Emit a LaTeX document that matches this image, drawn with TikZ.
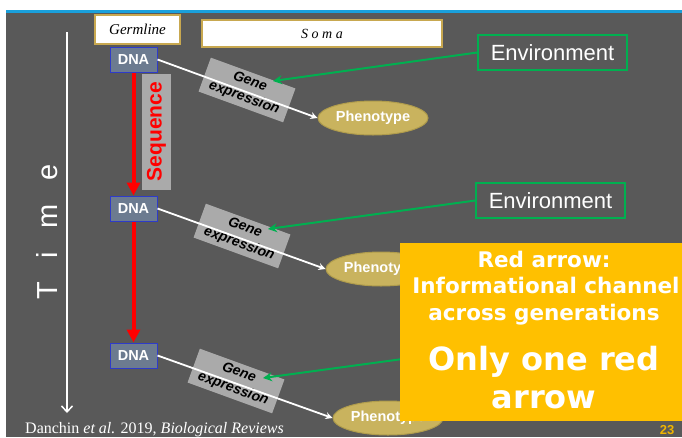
\documentclass[tikz,border=0pt]{standalone}
\usepackage{fontspec}
\setmainfont{Liberation Sans}
\newfontfamily\serifit{Liberation Serif}
\newfontfamily\timefont[WordSpace=2.9]{Liberation Sans}
\newfontfamily\yfont{DejaVu Sans}
\usetikzlibrary{shapes.geometric,arrows.meta}
\definecolor{bg}{HTML}{595959}
\definecolor{topblue}{HTML}{1AA0DC}
\definecolor{goldline}{HTML}{C8A850}
\definecolor{envgreen}{HTML}{00B050}
\definecolor{dnafill}{HTML}{6C7B90}
\definecolor{dnaline}{HTML}{2E3BC9}
\definecolor{boxgray}{HTML}{AAAAAA}
\definecolor{phfill}{HTML}{C9B35E}
\definecolor{phline}{HTML}{B09C4C}
\definecolor{yel}{HTML}{FFC000}
\definecolor{numyel}{HTML}{F0B400}
\tikzset{
  labelbox/.style={draw=goldline, line width=1.2pt, fill=white, inner sep=0pt},
  envbox/.style={draw=envgreen, line width=1.5pt, inner sep=0pt, minimum width=149pt, minimum height=35pt,
    text=white, font=\fontsize{22}{24}\selectfont},
  dnabox/.style={draw=dnaline, line width=1pt, fill=dnafill, inner sep=0pt, minimum width=47pt, minimum height=25pt,
    text=white, font=\fontsize{14.5}{16}\selectfont\bfseries},
  genebox/.style={fill=boxgray, rotate=-20, inner sep=0pt, minimum width=90pt, minimum height=36pt,
    align=center, font=\fontsize{14}{17}\selectfont\bfseries\itshape},
  phbox/.style={ellipse, fill=phfill, draw=phline, line width=1pt, inner sep=0pt, minimum width=110pt, minimum height=34pt,
    text=white, font=\fontsize{14.5}{16}\selectfont\bfseries},
  whitearrow/.style={draw=white, line width=1.8pt, -{Stealth[length=7pt,width=7pt]}},
  greenarrow/.style={draw=envgreen, line width=2pt, -{Stealth[length=9pt,width=9pt]}},
  redarrow/.style={draw=red, line width=4pt, -{Triangle[length=13pt,width=13pt]}},
  ytext/.style={text=white, anchor=base, inner sep=0pt},
}
\begin{document}
\begin{tikzpicture}[x=1pt,y=-1pt]
\useasboundingbox (0,0) rectangle (682,437);
\clip (0,0) rectangle (682,437);
% background
\fill[white] (0,0) rectangle (682,437);
\fill[bg] (5.5,11) rectangle (682,437);
\fill[topblue] (5.5,10) rectangle (682,12.5);

% time axis
\coordinate (t0) at (67,32);
\coordinate (t1) at (67,413);
\draw[white, line width=1.5pt, -{Straight Barb[length=6pt,width=11pt]}] (t0) -- (t1);
\node[rotate=90, text=white, inner sep=0pt, font=\timefont\fontsize{29}{30}\selectfont] (time) at (47,232) {T i m e};

% header boxes
\node[labelbox, minimum width=85pt, minimum height=29pt, font=\serifit\itshape\fontsize{15}{16}\selectfont] (germ) at (137.5,29.5) {Germline};
\node[labelbox, minimum width=240pt, minimum height=27pt, font=\serifit\itshape\fontsize{14}{16}\selectfont] (soma) at (322,33.5) {S o m a};

% environment boxes
\node[envbox] (env1) at (552.5,52.5) {Environment};
\node[envbox] (env2) at (550.5,200.5) {Environment};
\coordinate (env3) at (476,349);

% gene expression boxes
\node[genebox] (ge1) at (247,90) {Gene\\expression};
\node[genebox] (ge2) at (242,236) {Gene\\expression};
\node[genebox] (ge3) at (236,381) {Gene\\expression};
\coordinate (g1tip) at (273,81);
\coordinate (g2tip) at (268,229);
\coordinate (g3tip) at (263,378);

% sequence box
\node[fill=boxgray, rotate=90, inner sep=0pt, minimum width=116pt, minimum height=29pt, text=red,
  font=\fontsize{21}{22}\selectfont\bfseries] (seq) at (156.5,131.5) {Sequence};

% DNA boxes
\node[dnabox] (dna1) at (133.5,59.5) {DNA};
\node[dnabox] (dna2) at (133.5,208.5) {DNA};
\node[dnabox] (dna3) at (133.5,355.5) {DNA};

% phenotypes
\node[phbox] (ph1) at (373,118) {Phenotype};
\node[phbox] (ph2) at (381,269) {Phenotype};
\node[phbox] (ph3) at (388,418) {Phenotype};

% connectors
\draw[whitearrow] (dna1.east) -- (ph1.west);
\draw[whitearrow] (dna2.east) -- (ph2.west);
\draw[whitearrow] (dna3.east) -- (ph3.west);
\draw[greenarrow] (env1.west) -- (g1tip);
\draw[greenarrow] (env2.west) -- (g2tip);
\draw[greenarrow] (env3) -- (g3tip);
\draw[redarrow] (dna1.south) -- (dna2.north);
\draw[redarrow] (dna2.south) -- (dna3.north);

% yellow panel
\node[fill=yel, anchor=north west, inner sep=0pt, minimum width=282pt, minimum height=178pt] (panel) at (400,243) {};
\node[ytext, font=\yfont\bfseries\fontsize{21.5}{22}\selectfont] (y1) at (544,267) {Red arrow:};
\node[ytext, font=\yfont\bfseries\fontsize{21.5}{22}\selectfont] (y2) at (546,293) {Informational channel};
\node[ytext, font=\yfont\bfseries\fontsize{21.5}{22}\selectfont] (y3) at (544,320) {across generations};
\node[ytext, font=\yfont\bfseries\fontsize{32}{34}\selectfont] (y4) at (544,370) {Only one red};
\node[ytext, font=\yfont\bfseries\fontsize{32}{34}\selectfont] (y5) at (544,408) {arrow};

% page number and citation
\node[text=numyel, inner sep=0pt, font=\fontsize{13}{14}\selectfont\bfseries] (pnum) at (667,430.5) {23};
\node[text=white, anchor=base west, inner sep=0pt, font=\serifit\fontsize{16}{16}\selectfont] (cite) at (25,433)
  {Danchin \textit{et al.} 2019, \textit{Biological Reviews}};
\end{tikzpicture}
\end{document}
